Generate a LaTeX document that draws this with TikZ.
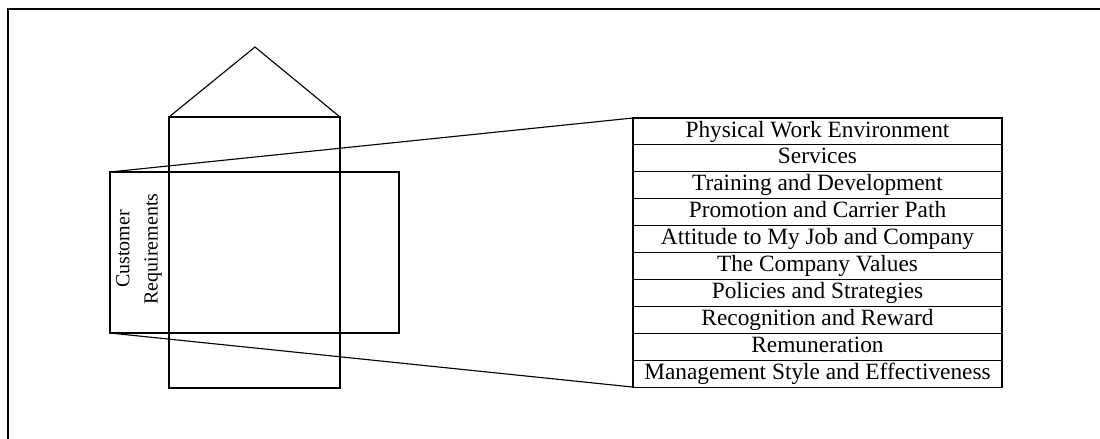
\documentclass[tikz,border=0pt]{standalone}
\usepackage{fontspec}
\setmainfont{Liberation Serif}
\usetikzlibrary{positioning}

\tikzset{
    factor/.style={draw, outer sep=0pt, inner sep=0pt,
        minimum width=9.225cm, minimum height=0.6725cm,
        text height=11.5pt, text depth=3.6pt,
        font=\fontsize{16.6}{20}\selectfont},
    reqbox/.style={draw, outer sep=0pt, inner sep=0pt,
        minimum width=7.225cm, minimum height=4.025cm},
}

\begin{document}
\begin{tikzpicture}[x=0.025cm, y=-0.025cm, line width=0.8pt]
    \useasboundingbox (0,0) rectangle (1100,439);

    % frame
    \draw (1100,9) -- (8,9) -- (8,439);

    % house
    \draw (169,117) -- (255,47) -- (340,117);
    \draw (169,117) rectangle (340,388);

    % customer requirements
    \node [reqbox] (req) at (254.5,252.5) {};
    \node [rotate=90, align=center, inner sep=0pt,
        font=\fontsize{14.2}{20}\selectfont] (reqtext) at (139,249)
        {Customer\\Requirements};

    % factors
    \node [factor] (f1) at (817.5,131.45) {Physical Work Environment};
    \node [factor, below=0pt of f1] (f2) {Services};
    \node [factor, below=0pt of f2] (f3) {Training and Development};
    \node [factor, below=0pt of f3] (f4) {Promotion and Carrier Path};
    \node [factor, below=0pt of f4] (f5) {Attitude to My Job and Company};
    \node [factor, below=0pt of f5] (f6) {The Company Values};
    \node [factor, below=0pt of f6] (f7) {Policies and Strategies};
    \node [factor, below=0pt of f7] (f8) {Recognition and Reward};
    \node [factor, below=0pt of f8] (f9) {Remuneration};
    \node [factor, below=0pt of f9] (f10) {Management Style and Effectiveness};

    \draw (req.north west) -- (f1.north west);
    \draw (req.south west) -- (f10.south west);
\end{tikzpicture}
\end{document}
